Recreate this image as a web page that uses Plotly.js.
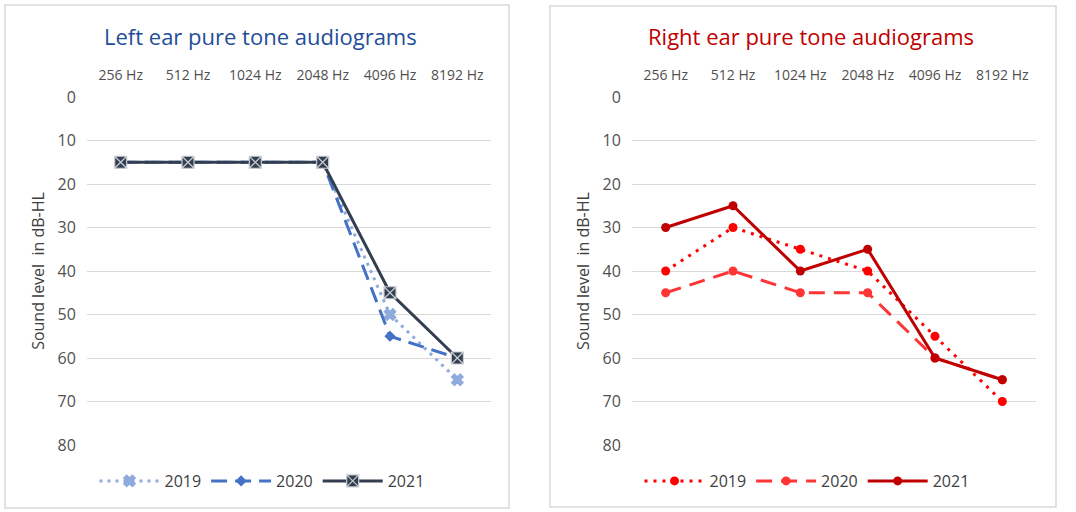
<!DOCTYPE html>
<html>
<head>
<meta charset="utf-8">
<script src="https://cdn.plot.ly/plotly-3.0.1.min.js"></script>
<style>
  html, body { margin: 0; padding: 0; background: #fff; }
  #chart { width: 1076px; height: 512px; }
</style>
</head>
<body>
<div id="chart"></div>
<script>
// frequencies (top axis)
const freqs = ['256 Hz', '512 Hz', '1024 Hz', '2048 Hz', '4096 Hz', '8192 Hz'];
const years = ['2019', '2020', '2021'];

// left ear, dB-HL
const left2019 = [15, 15, 15, 15, 50, 65];
const left2020 = [15, 15, 15, 15, 55, 60];
const left2021 = [15, 15, 15, 15, 45, 60];

// right ear, dB-HL
const right2019 = [40, 30, 35, 40, 55, 70];
const right2020 = [45, 40, 45, 45, 60, 65];
const right2021 = [30, 25, 40, 35, 60, 65];

const W = 1076, H = 512;
const px = v => v / W;
const py = v => 1 - v / H;

const FONT = 'Open Sans, Segoe UI, sans-serif';

// left panel styles
const leftStyle = [
    { color: '#8faadc', dash: '3px,5px', symbol: 'x', size: 10 },
    { color: '#4472c4', dash: '16px,8px', symbol: 'diamond', size: 7 },
    { color: '#333f50', dash: 'solid', symbol: 'square-x', size: 12 }
];
// right panel styles
const rightStyle = [
    { color: '#ff0000', dash: '3px,6px', symbol: 'circle', size: 9 },
    { color: '#ff3535', dash: '16px,9px', symbol: 'circle', size: 9 },
    { color: '#c00000', dash: 'solid', symbol: 'circle', size: 9 }
];

const leftData = [left2019, left2020, left2021];
const rightData = [right2019, right2020, right2021];

const traces = [];
leftData.forEach((vals, i) => {
    const s = leftStyle[i];
    traces.push({
        x: freqs, y: vals, name: years[i], type: 'scatter', mode: 'lines+markers',
        xaxis: 'x', yaxis: 'y', legend: 'legend',
        line: { color: s.color, width: 3, dash: s.dash },
        marker: { color: s.color, symbol: s.symbol, size: s.size,
                  line: { color: i === 2 ? '#c9ccd2' : s.color, width: i === 2 ? 1.2 : 1.5 } }
    });
});
rightData.forEach((vals, i) => {
    const s = rightStyle[i];
    traces.push({
        x: freqs, y: vals, name: years[i], type: 'scatter', mode: 'lines+markers',
        xaxis: 'x2', yaxis: 'y2', legend: 'legend2',
        line: { color: s.color, width: 3, dash: s.dash },
        marker: { color: s.color, symbol: s.symbol, size: s.size }
    });
});

const xCommon = {
    type: 'category', side: 'top', range: [-0.5, 5.5],
    showgrid: false, zeroline: false, showline: false,
    ticks: 'outside', ticklen: 10, tickcolor: 'rgba(0,0,0,0)',
    tickfont: { family: FONT, size: 14, color: '#505050' }
};
const yCommon = {
    range: [80, 0], dtick: 10, tick0: 0,
    showgrid: true, gridcolor: '#d9d9d9', gridwidth: 1.3,
    zeroline: false, showline: false,
    ticks: 'outside', ticklen: 7, tickcolor: 'rgba(0,0,0,0)',
    tickfont: { family: FONT, size: 16, color: '#505050' },
    title: { text: 'Sound level  in dB-HL', font: { family: FONT, size: 16, color: '#404040' }, standoff: 8 }
};

const yDom = [py(445), py(97)];

const layout = {
    width: W, height: H,
    margin: { l: 0, r: 0, t: 0, b: 0 },
    paper_bgcolor: '#fff', plot_bgcolor: 'rgba(0,0,0,0)',
    showlegend: true,
    xaxis: Object.assign({}, xCommon, { domain: [px(87), px(491)], anchor: 'y' }),
    yaxis: Object.assign({}, yCommon, { domain: yDom, anchor: 'x' }),
    xaxis2: Object.assign({}, xCommon, { domain: [px(632), px(1036)], anchor: 'y2' }),
    yaxis2: Object.assign({}, yCommon, { domain: yDom, anchor: 'x2' }),
    legend: {
        orientation: 'h', x: px(262), xanchor: 'center', y: py(481), yanchor: 'middle',
        font: { family: FONT, size: 16, color: '#404040' }, itemwidth: 60, tracegroupgap: 0
    },
    legend2: {
        orientation: 'h', x: px(807), xanchor: 'center', y: py(481), yanchor: 'middle',
        font: { family: FONT, size: 16, color: '#404040' }, itemwidth: 60, tracegroupgap: 0
    },
    shapes: [
        { type: 'rect', xref: 'paper', yref: 'paper', x0: px(5), x1: px(509), y0: py(508), y1: py(5),
          line: { color: '#d9d9d9', width: 1.5 } },
        { type: 'rect', xref: 'paper', yref: 'paper', x0: px(550), x1: px(1056), y0: py(507), y1: py(6),
          line: { color: '#d9d9d9', width: 1.5 } }
    ],
    annotations: [
        { text: 'Left ear pure tone audiograms', xref: 'paper', yref: 'paper',
          x: px(260), y: py(36), xanchor: 'center', yanchor: 'middle', showarrow: false,
          font: { family: FONT, size: 22, color: '#1f4e99' } },
        { text: 'Right ear pure tone audiograms', xref: 'paper', yref: 'paper',
          x: px(811), y: py(36), xanchor: 'center', yanchor: 'middle', showarrow: false,
          font: { family: FONT, size: 22, color: '#c00000' } }
    ]
};

Plotly.newPlot('chart', traces, layout, { displayModeBar: false, responsive: false });
</script>
</body>
</html>
